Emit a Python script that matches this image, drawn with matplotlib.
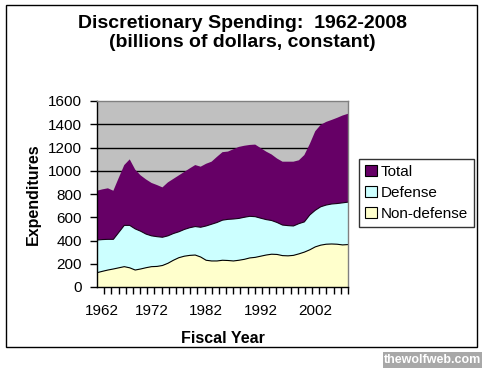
import numpy as np
import matplotlib
matplotlib.use("Agg")
import matplotlib.pyplot as plt
from matplotlib.patches import Patch, Rectangle
from matplotlib.transforms import ScaledTranslation

plt.rcParams['font.family'] = ['Liberation Sans', 'DejaVu Sans']

years = list(range(1962, 2009))
nondefense = [123, 135, 146, 155, 165, 175, 165, 146, 155, 166, 175, 177, 185, 204, 230, 252,
              265, 272, 275, 258, 230, 224, 224, 230, 228, 224, 230, 238, 250, 255, 265, 275,
              282, 280, 270, 268, 272, 285, 300, 320, 345, 360, 368, 370, 368, 362, 365]
defense = [281, 273, 264, 255, 305, 355, 365, 354, 325, 289, 265, 256, 243, 236, 230, 223,
           230, 238, 245, 256, 295, 316, 331, 345, 354, 361, 360, 362, 358, 350, 327, 305,
           290, 275, 263, 260, 253, 260, 260, 300, 315, 330, 337, 344, 350, 362, 365]
total = [424, 432, 439, 418, 470, 519, 568, 510, 480, 470, 455, 444, 429, 460, 470, 485,
         495, 510, 529, 521, 535, 538, 565, 585, 583, 600, 615, 615, 614, 620, 603, 585,
         568, 550, 545, 550, 553, 545, 575, 610, 680, 705, 715, 723, 737, 751, 760]
series_names = ['Non-defense', 'Defense', 'Total']
xtick_labels = [1962, 1972, 1982, 1992, 2002]
yticks = [0, 200, 400, 600, 800, 1000, 1200, 1400, 1600]

colors = ['#FFFFCC', '#CCFFFF', '#660066']

W, H = 484, 369
fig = plt.figure(figsize=(W / 100, H / 100), dpi=100)
fig.patch.set_facecolor('white')

ax = fig.add_axes([97 / W, 1 - 287 / H, (348 - 97) / W, (287 - 101) / H])
ax.set_facecolor('#C0C0C0')

ax.stackplot(years, nondefense, defense, total, colors=colors, linewidth=0)
nd = np.array(nondefense)
dd = nd + np.array(defense)
ax.plot(years, nd, color='black', lw=0.8)
ax.plot(years, dd, color='#1a001a', lw=0.8)

ax.set_xlim(1962, 2008)
ax.set_ylim(0, 1600)
ax.set_yticks(yticks)
ax.set_yticklabels([str(v) for v in yticks])
for v in yticks[1:-1]:
    ax.axhline(v, color='black', lw=1.0, zorder=0.5)

ax.set_xticks(xtick_labels)
ax.set_xticklabels([str(v) for v in xtick_labels])
ax.set_xticks(np.linspace(1962, 2008, 36), minor=True)
ax.tick_params(axis='x', which='major', length=0, pad=12, labelsize=11)
ax.tick_params(axis='x', which='minor', length=5, width=1, direction='out')
ax.tick_params(axis='y', which='major', length=5, width=1, pad=6, labelsize=11, direction='out')
off = ScaledTranslation(5 / 100, 0, fig.dpi_scale_trans)
lbl0 = ax.get_xticklabels()[0]
lbl0.set_transform(lbl0.get_transform() + off)

for s in ['top', 'right']:
    ax.spines[s].set_color('#808080')
    ax.spines[s].set_linewidth(1)
for s in ['left', 'bottom']:
    ax.spines[s].set_color('black')
    ax.spines[s].set_linewidth(1)

handles = [Patch(facecolor=colors[2], edgecolor='black', lw=0.8),
           Patch(facecolor=colors[1], edgecolor='black', lw=0.8),
           Patch(facecolor=colors[0], edgecolor='black', lw=0.8)]
leg = fig.legend(handles, ['Total', 'Defense', 'Non-defense'],
                 loc='upper left', bbox_to_anchor=(359 / W, 1 - 159 / H),
                 frameon=True, fancybox=False, fontsize=11,
                 handlelength=0.75, handleheight=0.75, handletextpad=0.25,
                 labelspacing=0.45, borderpad=0.4, borderaxespad=0)
leg.get_frame().set_edgecolor('black')
leg.get_frame().set_linewidth(1)

fig.text(242 / W, 1 - 27.5 / H, 'Discretionary Spending:  1962-2008', ha='center',
         va='baseline', fontsize=14, fontweight='bold')
fig.text(242 / W, 1 - 46.7 / H, '(billions of dollars, constant)', ha='center',
         va='baseline', fontsize=14, fontweight='bold')
fig.text(33 / W, 1 - 194 / H, 'Expenditures', ha='center', va='center', rotation=90,
         fontsize=11.5, fontweight='bold')
fig.text(222.5 / W, 1 - 343 / H, 'Fiscal Year', ha='center', va='baseline',
         fontsize=11.5, fontweight='bold')

# chart border
fig.patches.append(Rectangle((6 / W, 1 - 347 / H), (477 - 6) / W, (347 - 5) / H,
                             transform=fig.transFigure, fill=False, edgecolor='black', lw=1))
# watermark
fig.patches.append(Rectangle((383 / W, 1 - 368 / H), (482 - 383) / W, (368 - 352) / H,
                             transform=fig.transFigure, facecolor='#A8A8A8', edgecolor='none'))
fig.text(432 / W, 1 - 360 / H, 'thewolfweb.com', ha='center', va='center', color='white',
         fontsize=9, fontweight='bold')

fig.savefig('out.png', dpi=100)
